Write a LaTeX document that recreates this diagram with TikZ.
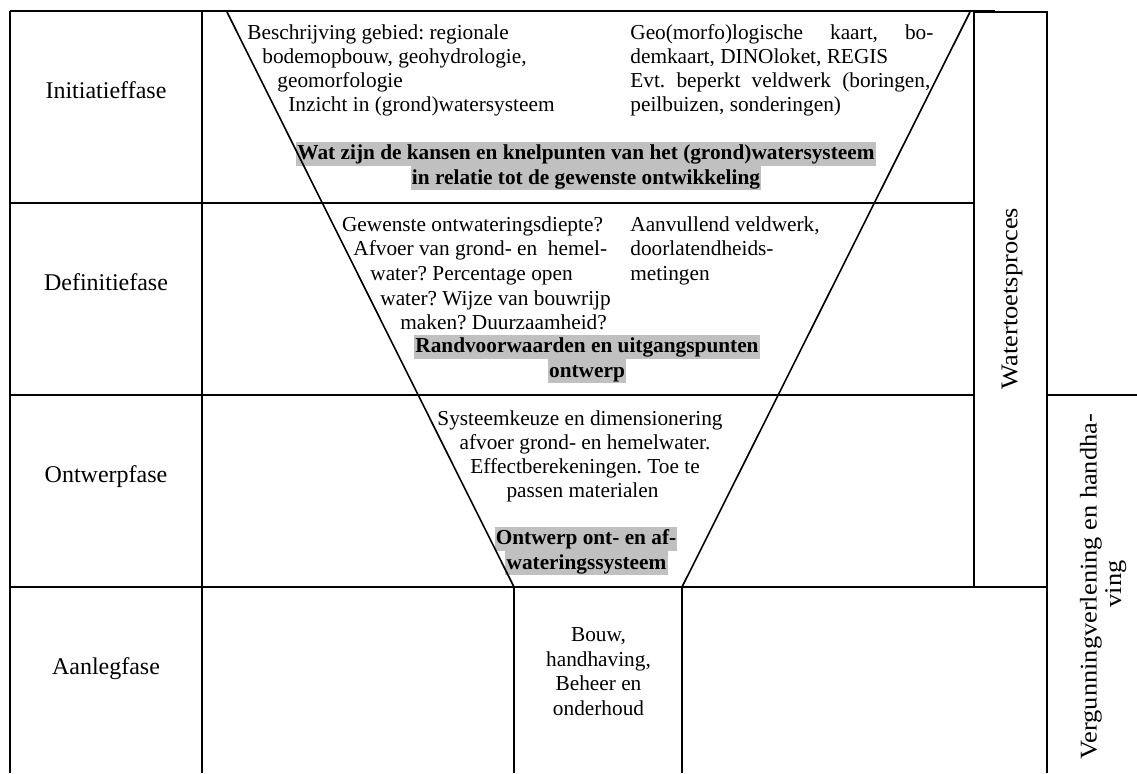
\documentclass[tikz,border=0pt]{standalone}
\usepackage{fontspec}
\setmainfont{Liberation Serif}
\definecolor{hl}{HTML}{C0C0C0}
\frenchspacing
\begin{document}
\frenchspacing
\begin{tikzpicture}[x=0.5pt,y=-0.5pt,
  txt/.style={inner sep=0pt, font=\fontsize{10.65pt}{12.25pt}\selectfont},
  lab/.style={inner sep=0pt, anchor=base, font=\fontsize{12pt}{14pt}\selectfont},
  lt/.style={txt, anchor=base west},
  ct/.style={txt, anchor=base},
  hlt/.style={ct, fill=hl, font=\fontsize{10.65pt}{12.25pt}\selectfont\bfseries, text height=8.9pt, text depth=3.1pt, inner xsep=0.6pt, inner ysep=0pt},
  frame/.style={line width=1pt},
  slant/.style={line width=0.8pt}]
\useasboundingbox (0,0) rectangle (1137,773);

% ---- phase labels
\node[lab] (l1) at (106,98.5) {Initiatieffase};
\node[lab] (l2) at (106,290.5) {Definitiefase};
\node[lab] (l3) at (106,482.5) {Ontwerpfase};
\node[lab] (l4) at (106,674.8) {Aanlegfase};

% ---- row 1
\node[lt] (a1) at (247,39) {Beschrijving gebied: regionale};
\node[lt] (a2) at (262,63.3) {bodemopbouw, geohydrologie,};
\node[lt] (a3) at (277,87.5) {geomorfologie};
\node[lt] (a4) at (288,111.7) {Inzicht in (grond)watersysteem};
\node[lt] (b1) at (630,39) {\makebox[151.5pt][s]{Geo(morfo)logische kaart, bo-}};
\node[lt] (b2) at (630,63.3) {demkaart, DINOloket, REGIS};
\node[lt] (b3) at (630,87.5) {\makebox[150pt][s]{Evt. beperkt veldwerk (boringen,}};
\node[lt] (b4) at (630,111.7) {peilbuizen, sonderingen)};
\node[hlt] (h11) at (586,159.6) {Wat zijn de kansen en knelpunten van het (grond)watersysteem};
\node[hlt] (h12) at (586,184.2) {in relatie tot de gewenste ontwikkeling};

% ---- row 2
\node[lt] (c1) at (341.7,231) {Gewenste ontwateringsdiepte?};
\node[lt] (c2) at (353,255.6) {Afvoer van grond- en\ \ hemel-};
\node[lt] (c3) at (370,280.3) {water? Percentage open};
\node[lt] (c4) at (380,305) {water? Wijze van bouwrijp};
\node[lt] (c5) at (400,329.3) {maken? Duurzaamheid?};
\node[lt] (d1) at (630,231) {Aanvullend veldwerk,};
\node[lt] (d2) at (630,255.6) {doorlatendheids-};
\node[lt] (d3) at (630,280.3) {metingen};
\node[hlt] (h21) at (587,352.5) {Randvoorwaarden en uitgangspunten};
\node[hlt] (h22) at (587,377) {ontwerp};

% ---- row 3
\node[ct] (e1) at (580,425) {Systeemkeuze en dimensionering};
\node[ct] (e2) at (585,449.3) {afvoer grond- en hemelwater.};
\node[ct] (e3) at (585,473.3) {Effectberekeningen. Toe te};
\node[ct] (e4) at (582.5,497.3) {passen materialen};
\node[hlt] (h31) at (586,544.5) {Ontwerp ont- en af-};
\node[hlt] (h32) at (586.5,569) {wateringssysteem};

% ---- row 4
\node[ct] (f1) at (598.5,641.7) {Bouw,};
\node[ct] (f2) at (598.5,666.2) {handhaving,};
\node[ct] (f3) at (598.5,690.5) {Beheer en};
\node[ct] (f4) at (598.5,715) {onderhoud};

% ---- side labels
\node[lab, rotate=90] (w) at (1017.3,298.5) {\scalebox{1.1}[1]{Watertoetsproces}};
\node[lab, rotate=90] (v1) at (1096.7,586.7) {\scalebox{1.1}[1]{Vergunningverlening en handha-}};
\node[lab, rotate=90] (v2) at (1121,584) {\scalebox{1.1}[1]{ving}};

% ---- frame coordinates
\coordinate (TL) at (10,11);
\coordinate (BL) at (10,773);
\coordinate (TC) at (202,11);
\coordinate (BC) at (202,773);
\coordinate (TE) at (995,11);
\coordinate (R1a) at (10,203);  \coordinate (R1b) at (974,203);
\coordinate (R2a) at (10,395);  \coordinate (R2b) at (974,395);
\coordinate (R3a) at (10,587);  \coordinate (R3b) at (1047,587);
\coordinate (WT1) at (974,12);  \coordinate (WT2) at (1047,587);
\coordinate (WB) at (1047,773);
\coordinate (VT1) at (1047,395); \coordinate (VT2) at (1137,395);
\coordinate (FL) at (227,12);  \coordinate (FLb) at (514,587);
\coordinate (FR) at (970,12);  \coordinate (FRb) at (682,587);
\coordinate (AL) at (514,773); \coordinate (AR) at (682,773);

\draw[frame] (TL) -- (TE);
\draw[frame] (TL) -- (BL);
\draw[frame] (TC) -- (BC);
\draw[frame] (R1a) -- (R1b);
\draw[frame] (R2a) -- (R2b);
\draw[frame] (R3a) -- (R3b);
\draw[frame] (WT1) rectangle (WT2);
\draw[frame] (WT2) -- (WB);
\draw[frame] (VT1) -- (VT2);
\draw[frame] (FLb) -- (AL);
\draw[frame] (FRb) -- (AR);
\draw[slant] (FL) -- (FLb);
\draw[slant] (FR) -- (FRb);
\end{tikzpicture}
\end{document}
